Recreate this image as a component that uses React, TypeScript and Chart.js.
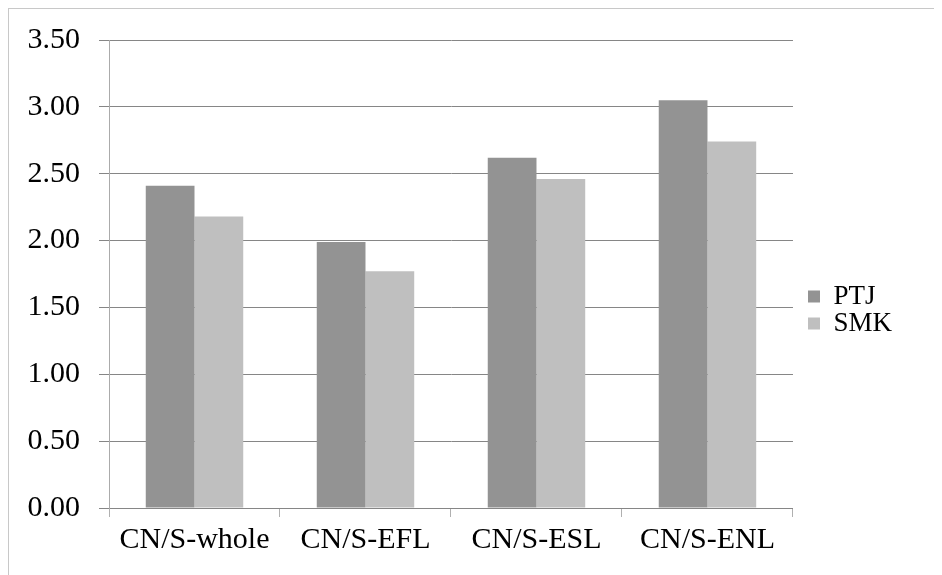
import React, { useEffect, useRef } from "react";
import { Chart, registerables } from "chart.js";

Chart.register(...registerables);

const categories = ["CN/S-whole", "CN/S-EFL", "CN/S-ESL", "CN/S-ENL"];
const ptjValues = [2.41, 1.99, 2.62, 3.05];
const smkValues = [2.18, 1.77, 2.46, 2.74];
const seriesNames = ["PTJ", "SMK"];
const seriesColors = ["#939393", "#bfbfbf"];

export default function App() {
  const ref = useRef<HTMLCanvasElement | null>(null);

  useEffect(() => {
    if (!ref.current) return;
    const chart = new Chart(ref.current, {
      type: "bar",
      data: {
        labels: categories,
        datasets: [
          { label: seriesNames[0], data: ptjValues, backgroundColor: seriesColors[0], borderWidth: 0 },
          { label: seriesNames[1], data: smkValues, backgroundColor: seriesColors[1], borderWidth: 0 },
        ],
      },
      options: {
        animation: false,
        responsive: false,
        maintainAspectRatio: false,
        devicePixelRatio: 1,
        datasets: { bar: { categoryPercentage: 0.57, barPercentage: 1 } },
        layout: { padding: { top: 31, right: 40, bottom: 12, left: 0 } },
        plugins: {
          tooltip: { enabled: false },
          legend: {
            position: "right",
            title: {
              display: true,
              text: " ",
              font: { size: 10 },
              padding: { top: 3, bottom: 2 },
            },
            labels: {
              boxWidth: 12,
              boxHeight: 12,
              padding: 0,
              color: "#000",
              font: { family: "'Liberation Serif', 'Times New Roman', serif", size: 27 },
            },
          },
        },
        scales: {
          x: {
            grid: {
              drawOnChartArea: false,
              drawTicks: true,
              tickLength: 9,
              color: "#b0b0b0",
              offset: true,
            },
            border: { color: "#868686" },
            ticks: {
              color: "#000",
              padding: 5,
              maxRotation: 0,
              font: { family: "'Liberation Serif', 'Times New Roman', serif", size: 30 },
            },
          },
          y: {
            min: 0,
            max: 3.5,
            afterFit: (s: any) => {
              s.width = 100;
              s.paddingTop = 0;
              s.paddingBottom = 0;
            },
            grid: { color: "#868686", tickLength: 10, drawTicks: true },
            border: { color: "#ababab" },
            ticks: {
              stepSize: 0.5,
              color: "#000",
              padding: 19,
              callback: (v: any) => Number(v).toFixed(2),
              font: { family: "'Liberation Serif', 'Times New Roman', serif", size: 30 },
            },
          },
          gap: {
            type: "linear",
            position: "right",
            display: true,
            afterFit: (s: any) => { s.width = 15; },
            grid: { display: false, drawTicks: false },
            border: { display: false },
            ticks: { display: false },
          },
        },
      } as any,
    });
    return () => chart.destroy();
  }, []);

  return (
    <div
      style={{
        position: "relative",
        width: 933,
        height: 566,
        borderTop: "1px solid #c8c8c8",
        borderLeft: "1px solid #c8c8c8",
      }}
    >
      <canvas ref={ref} width={933} height={566} style={{ display: "block" }} />
    </div>
  );
}
